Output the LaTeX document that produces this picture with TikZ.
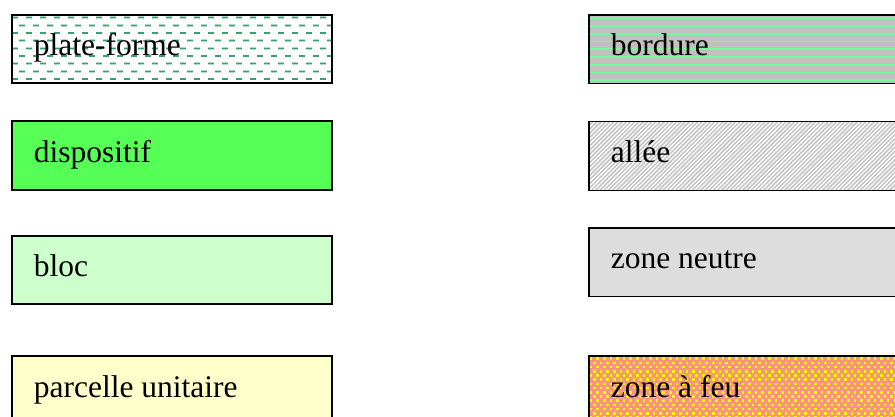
\documentclass[tikz,border=0pt]{standalone}
\usepackage{fontspec}
\setmainfont{Liberation Serif}
\usetikzlibrary{calc}
\definecolor{pfgreen}{RGB}{60,160,110}
\definecolor{bdgreen}{RGB}{115,250,155}
\definecolor{bdgray}{RGB}{192,192,192}
\definecolor{algray}{RGB}{196,196,196}
\definecolor{dispgreen}{RGB}{85,255,85}
\definecolor{blocgreen}{RGB}{204,255,204}
\definecolor{parcyellow}{RGB}{255,255,204}
\definecolor{zngray}{RGB}{221,221,221}
\definecolor{zfsalmon}{RGB}{250,148,130}
\definecolor{zfyellow}{RGB}{255,250,0}
\tikzset{
  legbox/.style={draw=black, line width=1.7pt, anchor=north west,
    minimum width=320pt, inner xsep=22pt, inner ysep=0pt,
    text width=276pt, align=flush left, font=\fontsize{31.5}{36}\selectfont,
    text height=21.5pt, text depth=7.9pt},
  platepat/.style={fill=white, path picture={
    \coordinate (nw) at (path picture bounding box.north west);
    \foreach \i in {0,...,8}{
      \pgfmathsetmacro\yy{2.7+7.7*\i}
      \pgfmathsetmacro\ph{mod(\i,2)*7}
      \draw[pfgreen!40, line width=2.6pt, dash pattern=on 6.5pt off 7.5pt, dash phase=\ph pt]
        ($(nw)+(0pt,-\yy pt)$) -- ($(nw)+(330pt,-\yy pt)$);
      \draw[pfgreen, line width=1.4pt, dash pattern=on 6.5pt off 7.5pt, dash phase=\ph pt]
        ($(nw)+(0pt,-\yy pt)$) -- ($(nw)+(330pt,-\yy pt)$);
    }}},
  bordpat/.style={fill=bdgray, path picture={
    \coordinate (nw) at (path picture bounding box.north west);
    \foreach \i in {0,...,8}{
      \pgfmathsetmacro\yy{3.3+7.75*\i}
      \draw[bdgreen, line width=1.8pt] ($(nw)+(0pt,-\yy pt)$) -- ($(nw)+(330pt,-\yy pt)$);
    }}},
  alleepat/.style={fill=white, path picture={
    \coordinate (nw) at (path picture bounding box.north west);
    \foreach \x in {-76,-71.8,...,330}{
      \draw[algray, line width=1.5pt] ($(nw)+(\x pt,-72pt)$) -- ($(nw)+(\x pt+72pt,0pt)$);
    }}},
  feupat/.style={fill=zfsalmon, path picture={
    \coordinate (nw) at (path picture bounding box.north west);
    \foreach \j in {0,...,17}{
      \pgfmathsetmacro\yy{1.5+4.2*\j}
      \pgfmathsetmacro\ox{mod(\j,2)*3.3+1}
      \foreach \i in {0,...,49}{
        \fill[zfyellow] ($(nw)+(\ox pt+6.6pt*\i,-\yy pt)$) rectangle ++(2.6pt,-2.6pt);
      }
    }}},
}
\begin{document}
\begin{tikzpicture}[x=1pt,y=-1pt]
  \useasboundingbox (0,0) rectangle (895,416);
  % left column
  \node[legbox, platepat, minimum height=68pt] (pf) at (11,14) {plate-forme};
  \node[legbox, fill=dispgreen, minimum height=69pt] (disp) at (11,120) {dispositif};
  \node[legbox, fill=blocgreen, minimum height=68pt] (bloc) at (11,235) {bloc};
  \node[legbox, fill=parcyellow, minimum height=70pt] (parc) at (11,355) {parcelle unitaire};
  % right column
  \node[legbox, bordpat, minimum height=68.5pt] (bord) at (588,14) {bordure};
  \node[legbox, alleepat, minimum height=69pt] (allee) at (588,120.5) {allée};
  \node[legbox, fill=zngray, minimum height=68.5pt] (zn) at (588,227) {zone neutre};
  \node[legbox, feupat, minimum height=70pt] (zf) at (588,355) {zone à feu};
\end{tikzpicture}
\end{document}
